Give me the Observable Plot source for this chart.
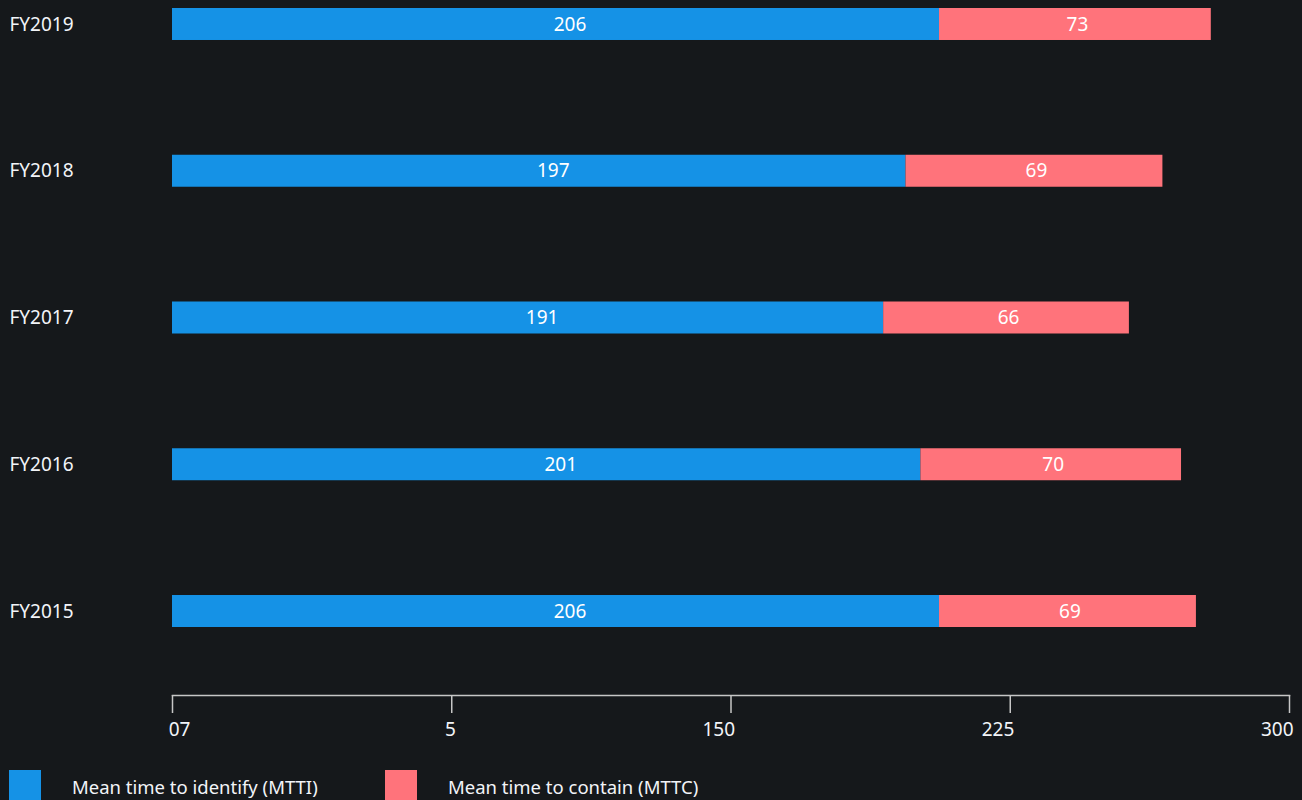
<!DOCTYPE html>
<html>
<head>
<meta charset="utf-8">
<script src="https://cdn.jsdelivr.net/npm/d3@7"></script>
<script src="https://cdn.jsdelivr.net/npm/@observablehq/plot@0.6"></script>
<style>
  html, body { margin: 0; padding: 0; background: #15181b; overflow: hidden; }
  body { width: 1302px; height: 800px; position: relative; font-family: "Noto Sans", sans-serif; }
  #chart { position: absolute; left: 0; top: 0; }
  #legend { position: absolute; left: 9px; top: 770px; display: flex; align-items: center; }
  .item { display: flex; align-items: center; }
  .sw { width: 32px; height: 32px; flex: none; }
  .lab { color: #f2f4f8; font-size: 18.5px; margin-left: 31px; white-space: nowrap; }
</style>
</head>
<body>
<div id="chart"></div>
<div id="legend"></div>
<script>
const years = ["FY2019", "FY2018", "FY2017", "FY2016", "FY2015"];
const mtti = [206, 197, 191, 201, 206];
const mttc = [73, 69, 66, 70, 69];
const seriesNames = ["Mean time to identify (MTTI)", "Mean time to contain (MTTC)"];
const seriesColors = ["#1592e6", "#ff737b"];
const tickValues = [0, 75, 150, 225, 300];
const tickLabels = ["07", "5", "150", "225", "300"];

const data = years.flatMap((y, i) => [
  {year: y, series: seriesNames[0], value: mtti[i]},
  {year: y, series: seriesNames[1], value: mttc[i]}
]);

const fg = "#f2f4f8";
const axisStroke = "#c6c6c6";
const fs = 19;
const fmt = d => tickLabels[tickValues.indexOf(d)];
const chart = Plot.plot({
  width: 1302,
  height: 762,
  marginLeft: 172,
  marginRight: 13,
  marginTop: 0,
  marginBottom: 67,
  style: {background: "transparent", fontFamily: "Noto Sans, sans-serif", fontSize: fs + "px", color: fg},
  x: {domain: [0, 300], label: null},
  y: {domain: years, range: [8, 627], paddingInner: 0.782, paddingOuter: 0, round: false, axis: null},
  color: {domain: seriesNames, range: seriesColors},
  marks: [
    Plot.barX(data, Plot.stackX({y: "year", x: "value", fill: "series", order: seriesNames})),
    Plot.text(data.filter(d => d.series === seriesNames[0]), Plot.stackX({y: "year", x: "value", z: "series", order: seriesNames, text: d => String(d.value), fill: "white", fontSize: fs, dx: 14})),
    Plot.text(data, Plot.stackX({y: "year", x: "value", z: "series", order: seriesNames, text: d => d.series === seriesNames[1] ? String(d.value) : "", fill: "white", fontSize: fs, dx: 2})),
    Plot.text(years, {y: d => d, text: d => d, frameAnchor: "left", textAnchor: "start", dx: -163, fill: fg, fontSize: fs}),
    Plot.frame({anchor: "bottom", stroke: axisStroke, strokeWidth: 1.5}),
    Plot.axisX(tickValues, {tickSize: 18, tickFormat: () => "", stroke: axisStroke, strokeWidth: 1.5, label: null}),
    Plot.axisX(tickValues.slice(1), {tickSize: 0, tickPadding: 27, tickFormat: fmt, textAnchor: "end", dx: 4, fill: fg, fontSize: fs, label: null}),
    Plot.axisX(tickValues.slice(0, 1), {tickSize: 0, tickPadding: 27, tickFormat: fmt, textAnchor: "end", dx: 18, fill: fg, fontSize: fs, label: null})
  ]
});
document.getElementById("chart").appendChild(chart);

const legend = document.getElementById("legend");
seriesNames.forEach((name, i) => {
  const item = document.createElement("div");
  item.className = "item";
  if (i === 0) item.style.width = "376px";
  const sw = document.createElement("div");
  sw.className = "sw";
  sw.style.background = seriesColors[i];
  const lab = document.createElement("span");
  lab.className = "lab";
  lab.textContent = name;
  item.appendChild(sw);
  item.appendChild(lab);
  legend.appendChild(item);
});
</script>
</body>
</html>
